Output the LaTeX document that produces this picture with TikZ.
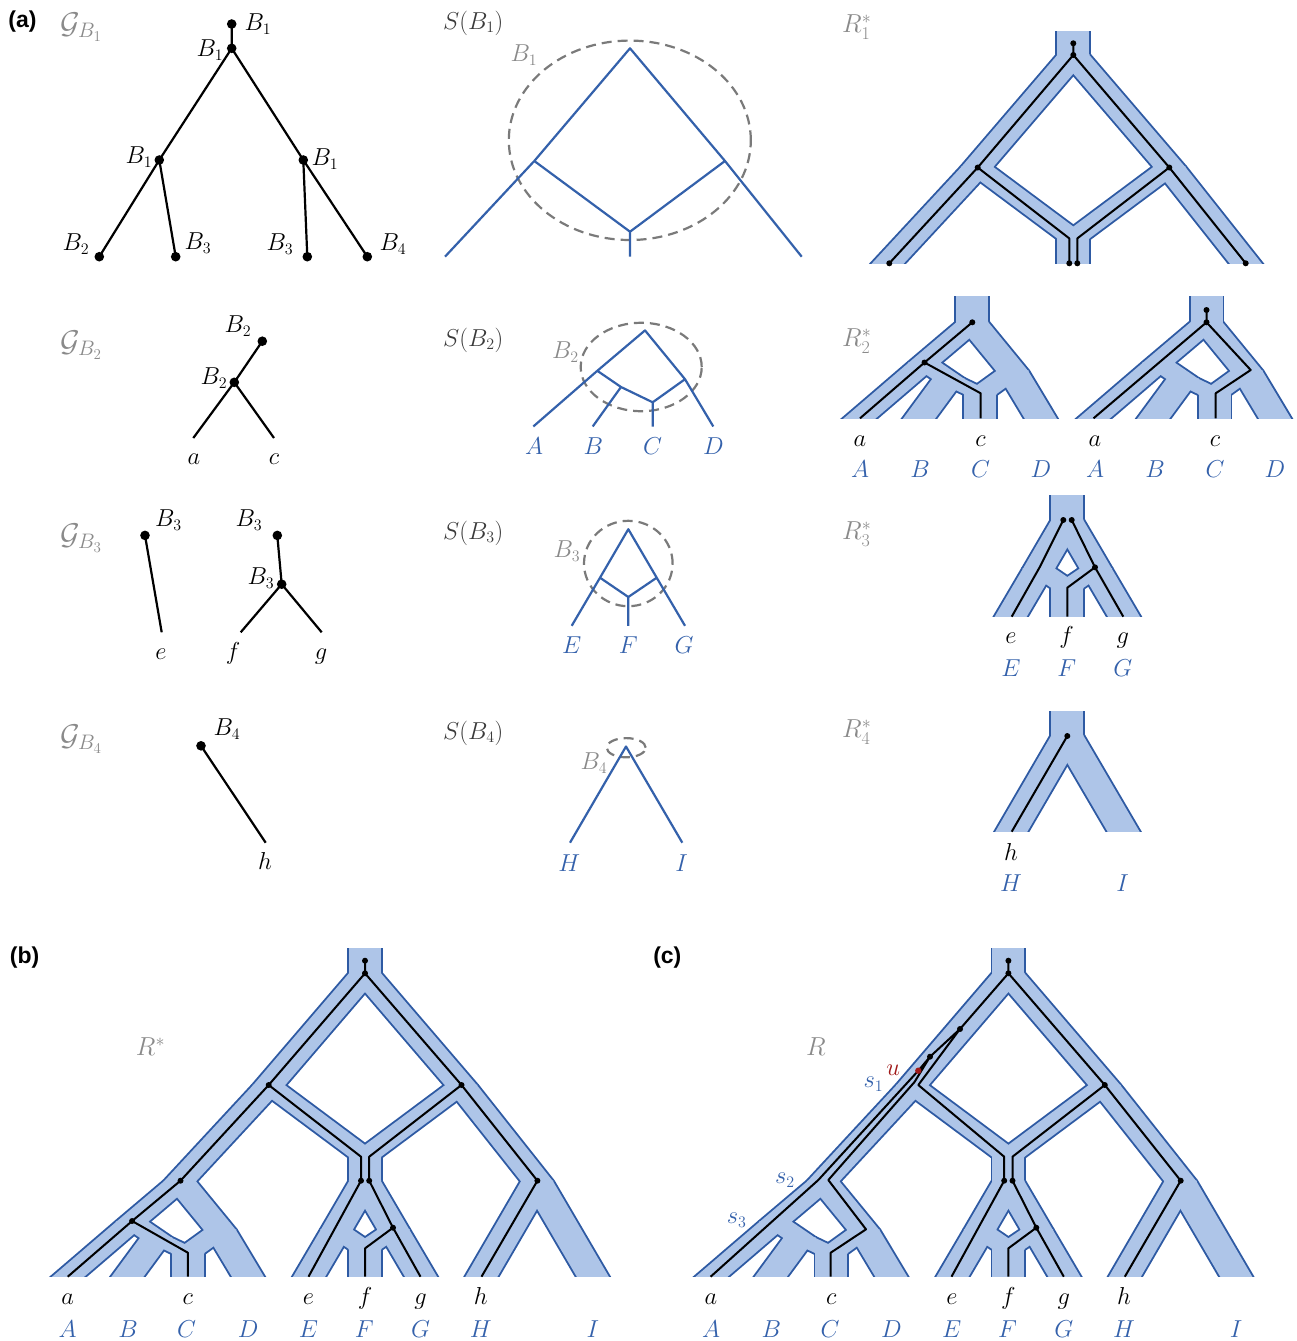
\RequirePackage{fix-cm}
\documentclass[tikz,border=0pt]{standalone}
\usepackage{fontspec}
\newfontfamily\panelfont{Liberation Sans}
\DeclareMathSizes{24.5}{24.5}{16}{12}
\DeclareMathSizes{30}{30}{21}{15}
\DeclareMathSizes{26}{26}{18}{13}
\usetikzlibrary{calc}
\definecolor{tubefillc}{HTML}{AEC5E8}
\definecolor{tubeedgec}{HTML}{2E5AA3}
\definecolor{sblue}{HTML}{3461AB}
\definecolor{lgray}{HTML}{8A8A8A}
\definecolor{dgray}{HTML}{3A3A3A}
\definecolor{egray}{HTML}{7A7A7A}
\definecolor{ured}{HTML}{A01818}
\newif\iffillpass
\newcommand\tubeseg[2]{%
  \iffillpass
    \fill[tubefillc] ($(#1)!-0.7pt!(#2)+(-16,0)$) -- ($(#1)!-0.7pt!(#2)+(16,0)$) -- ($(#2)!-0.7pt!(#1)+(16,0)$) -- ($(#2)!-0.7pt!(#1)+(-16,0)$) -- cycle;%
  \else
    \draw[tubeedgec,line width=3.8pt,line cap=round] ([xshift=-16pt]#1) -- ([xshift=-16pt]#2) ([xshift=16pt]#1) -- ([xshift=16pt]#2);%
  \fi}
\newcommand\tubeleaf[2]{\coordinate (tmpleaf) at ($(#1)!1.4!(#2)$);\tubeseg{#1}{tmpleaf}}
% species networks, coordinates relative to root
\newcommand\placeSone[3]{\begin{scope}[shift={(#2,#3)}]
  \coordinate (#1t) at (0,-40); \coordinate (#1r) at (0,0);
  \coordinate (#1L) at (-96,112); \coordinate (#1R) at (96,112);
  \coordinate (#1M) at (0,183.5);
  \coordinate (#1x) at (-185,208); \coordinate (#1y) at (0,208); \coordinate (#1z) at (172,208);
  \end{scope}}
\newcommand\placeStwo[3]{\begin{scope}[shift={(#2,#3)}]
  \coordinate (#1t) at (0,-40); \coordinate (#1r) at (0,0);
  \coordinate (#1L) at (-47.7,40.4); \coordinate (#1M) at (-24,56.6);
  \coordinate (#1C) at (8,71.9); \coordinate (#1R) at (40,48.8);
  \coordinate (#1a) at (-112.5,96); \coordinate (#1b) at (-53,96);
  \coordinate (#1c) at (8,96); \coordinate (#1d) at (68.3,96);
  \end{scope}}
\newcommand\placeSthree[3]{\begin{scope}[shift={(#2,#3)}]
  \coordinate (#1t) at (0,-40); \coordinate (#1r) at (0,0);
  \coordinate (#1L) at (-28.3,48.5); \coordinate (#1R) at (28.4,48.5);
  \coordinate (#1F) at (0,67.8);
  \coordinate (#1e) at (-56.6,96.6); \coordinate (#1f) at (0,96.6); \coordinate (#1g) at (56.7,96.6);
  \end{scope}}
\newcommand\placeSfour[3]{\begin{scope}[shift={(#2,#3)}]
  \coordinate (#1t) at (0,-40); \coordinate (#1r) at (0,0);
  \coordinate (#1h) at (-56,96.2); \coordinate (#1i) at (56.3,96.2);
  \end{scope}}
\newcommand\edgesSone[1]{\tubeseg{#1r}{#1L}\tubeseg{#1r}{#1R}\tubeseg{#1L}{#1M}\tubeseg{#1R}{#1M}}
\newcommand\edgesStwo[1]{\tubeseg{#1r}{#1L}\tubeseg{#1r}{#1R}\tubeleaf{#1L}{#1a}\tubeseg{#1L}{#1M}\tubeleaf{#1M}{#1b}\tubeseg{#1M}{#1C}\tubeseg{#1R}{#1C}\tubeleaf{#1C}{#1c}\tubeleaf{#1R}{#1d}}
\newcommand\edgesSthree[1]{\tubeseg{#1r}{#1L}\tubeseg{#1r}{#1R}\tubeleaf{#1L}{#1e}\tubeseg{#1L}{#1F}\tubeseg{#1R}{#1F}\tubeleaf{#1F}{#1f}\tubeleaf{#1R}{#1g}}
\newcommand\edgesSfour[1]{\tubeleaf{#1r}{#1h}\tubeleaf{#1r}{#1i}}
\newcommand\netOne[1]{\tubeseg{#1t}{#1r}\edgesSone{#1}\tubeleaf{#1L}{#1x}\tubeleaf{#1M}{#1y}\tubeleaf{#1R}{#1z}}
\newcommand\netTwo[1]{\tubeseg{#1t}{#1r}\edgesStwo{#1}}
\newcommand\netThree[1]{\tubeseg{#1t}{#1r}\edgesSthree{#1}}
\newcommand\netFour[1]{\tubeseg{#1t}{#1r}\edgesSfour{#1}}
\newcommand\netBig[1]{\tubeseg{#1t}{#1r}\edgesSone{#1}\tubeseg{#1L}{#1x}\tubeseg{#1M}{#1y}\tubeseg{#1R}{#1z}\edgesStwo{#1B}\edgesSthree{#1C}\edgesSfour{#1D}}
\newcommand\twopass[1]{\fillpassfalse #1\fillpasstrue #1}
\newcommand\gd[1]{\fill (#1) circle[radius=3pt];}
\newcommand\Gd[1]{\fill (#1) circle[radius=4.8pt];}
\begin{document}
\begin{tikzpicture}[x=1pt,y=-1pt,
  lbl/.style={inner sep=0pt,font=\fontsize{24.5}{28}\selectfont},
  ttl/.style={lbl,anchor=west,text=lgray},
  ttlG/.style={inner sep=0pt,anchor=west,text=lgray,font=\fontsize{30}{34}\selectfont},
  ttlR/.style={inner sep=0pt,anchor=west,text=lgray,font=\fontsize{26}{30}\selectfont},
  bl/.style={lbl,anchor=base,text=sblue},
  kl/.style={lbl,anchor=base},
  gtree/.style={line width=2.2pt,line join=round},
  gene/.style={line width=2pt,line join=round},
  sline/.style={line width=2.2pt,draw=sblue,line join=round},
  ell/.style={draw=egray,line width=2.2pt,dash pattern=on 10pt off 6pt},
  plbl/.style={inner sep=0pt,font=\panelfont\fontsize{23}{26}\selectfont\bfseries}]
\useasboundingbox (0,0) rectangle (1296,1341);
% ---------------- panel letters and titles
\node[plbl] (pa) at (22.5,22) {(a)};
\node[plbl] (pb) at (24.6,957.5) {(b)};
\node[plbl] (pc) at (667.3,957.5) {(c)};
\node[ttlG] (tG1) at (60,27) {$\mathcal{G}_{B_1}$};
\node[ttlG] (tG2) at (60,345) {$\mathcal{G}_{B_2}$};
\node[ttlG] (tG3) at (60,538) {$\mathcal{G}_{B_3}$};
\node[ttlG] (tG4) at (60,739) {$\mathcal{G}_{B_4}$};
\node[ttl,text=dgray] (tS1) at (443,23) {$S(B_1)$};
\node[ttl,text=dgray] (tS2) at (443,340) {$S(B_2)$};
\node[ttl,text=dgray] (tS3) at (443,533) {$S(B_3)$};
\node[ttl,text=dgray] (tS4) at (443,733) {$S(B_4)$};
\node[ttlR] (tR1) at (842,27) {$R^*_1$};
\node[ttlR] (tR2) at (842,341) {$R^*_2$};
\node[ttlR] (tR3) at (842,534) {$R^*_3$};
\node[ttlR] (tR4) at (842,732) {$R^*_4$};
\node[ttlR,anchor=center] (tRs) at (150.5,1046.7) {$R^*$};
\node[ttlR,anchor=center] (tR) at (815.8,1046.7) {$R$};
% ---------------- G_B1
\coordinate (ga1) at (231.7,24); \coordinate (ga2) at (231.7,48.3);
\coordinate (ga3) at (159.3,160); \coordinate (ga4) at (303.3,160);
\coordinate (ga5) at (99.3,256.7); \coordinate (ga6) at (175.7,256.7);
\coordinate (ga7) at (307.3,256.7); \coordinate (ga8) at (367.3,256.7);
\draw[gtree] (ga1)--(ga2) (ga2)--(ga3) (ga2)--(ga4) (ga3)--(ga5) (ga3)--(ga6) (ga4)--(ga7) (ga4)--(ga8);
\foreach \p in {ga1,ga2,ga3,ga4,ga5,ga6,ga7,ga8}{\Gd{\p}}
\node[lbl] (la1) at (258,24) {$B_1$};
\node[lbl] (la2) at (210,50) {$B_1$};
\node[lbl] (la3) at (139,157) {$B_1$};
\node[lbl] (la4) at (325,159) {$B_1$};
\node[lbl] (la5) at (76,244) {$B_2$};
\node[lbl] (la6) at (198,243) {$B_3$};
\node[lbl] (la7) at (280,244) {$B_3$};
\node[lbl] (la8) at (393,244) {$B_4$};
% ---------------- G_B2
\coordinate (gb21) at (262.3,341.2); \coordinate (gb22) at (234.3,382.3);
\coordinate (gb23) at (193.3,438); \coordinate (gb24) at (274,438);
\draw[gtree] (gb21)--(gb22)--(gb23) (gb22)--(gb24);
\Gd{gb21}\Gd{gb22}
\node[lbl] (lb1) at (238,326) {$B_2$};
\node[lbl] (lb2) at (214,378) {$B_2$};
\node[kl] (lb3) at (194,464.5) {$a$};
\node[kl] (lb4) at (274,464.5) {$c$};
% ---------------- G_B3
\coordinate (gc31) at (145,535.4); \coordinate (gc32) at (161.7,632.3);
\coordinate (gc33) at (277.3,535.4); \coordinate (gc34) at (281.7,584.2);
\coordinate (gc35) at (240.7,632.3); \coordinate (gc36) at (321.7,632.3);
\draw[gtree] (gc31)--(gc32) (gc33)--(gc34)--(gc35) (gc34)--(gc36);
\Gd{gc31}\Gd{gc33}\Gd{gc34}
\node[lbl] (lc1) at (168.5,520) {$B_3$};
\node[lbl] (lc2) at (249,520) {$B_3$};
\node[lbl] (lc3) at (261,578) {$B_3$};
\node[kl] (lc4) at (161,659) {$e$};
\node[kl] (lc5) at (233,659) {$f$};
\node[kl] (lc6) at (321,659) {$g$};
% ---------------- G_B4
\coordinate (gd41) at (201,745.8); \coordinate (gd42) at (265.7,842.7);
\draw[gtree] (gd41)--(gd42);
\Gd{gd41}
\node[lbl] (ld1) at (227,729) {$B_4$};
\node[kl] (ld2) at (265,869) {$h$};
% ---------------- S(B1)
\coordinate (s1r) at (630,48.3); \coordinate (s1L) at (534.3,161); \coordinate (s1R) at (725,161);
\coordinate (s1M) at (630,231.7); \coordinate (s1a) at (445,256.7); \coordinate (s1b) at (630,256.7); \coordinate (s1c) at (801.7,256.7);
\draw[ell] (629.8,140.3) ellipse[x radius=121pt,y radius=99.7pt];
\draw[sline] (s1a)--(s1L)--(s1r)--(s1R)--(s1c) (s1L)--(s1M)--(s1R) (s1M)--(s1b);
\node[lbl,text=lgray] (e1) at (524,55) {$B_1$};
% ---------------- S(B2)
\coordinate (s2r) at (645,330.4); \coordinate (s2L) at (597.3,370.8); \coordinate (s2M) at (621,387);
\coordinate (s2C) at (652.7,402.3); \coordinate (s2R) at (685,379.2);
\coordinate (s2a) at (533.3,426.5); \coordinate (s2b) at (592.7,426.5); \coordinate (s2c) at (652.7,426.5); \coordinate (s2d) at (713.3,426.5);
\draw[ell] (641.2,367) ellipse[x radius=60.5pt,y radius=44.2pt];
\draw[sline] (s2a)--(s2L)--(s2r)--(s2R)--(s2d) (s2L)--(s2M)--(s2C)--(s2R) (s2M)--(s2b) (s2C)--(s2c);
\node[lbl,text=lgray] (e2) at (565.5,352) {$B_2$};
\node[bl] (sA) at (534,454.6) {$A$};
\node[bl] (sB) at (593.3,454.6) {$B$};
\node[bl] (sC) at (652.7,454.6) {$C$};
\node[bl] (sD) at (713.3,454.6) {$D$};
% ---------------- S(B3)
\coordinate (s3r) at (628.3,529.2); \coordinate (s3L) at (600,577.7); \coordinate (s3R) at (656.7,577.7);
\coordinate (s3F) at (628.3,597); \coordinate (s3e) at (571.7,625.8); \coordinate (s3f) at (628.3,625.8); \coordinate (s3g) at (685,625.8);
\draw[ell] (628.3,563.5) ellipse[x radius=44.3pt,y radius=42.7pt];
\draw[sline] (s3e)--(s3L)--(s3r)--(s3R)--(s3g) (s3L)--(s3F)--(s3R) (s3F)--(s3f);
\node[lbl,text=lgray] (e3) at (567,551) {$B_3$};
\node[bl] (sE) at (571.7,653.5) {$E$};
\node[bl] (sF) at (628.3,653.5) {$F$};
\node[bl] (sG) at (684,653.5) {$G$};
% ---------------- S(B4)
\coordinate (s4r) at (626,746.5); \coordinate (s4h) at (570,842.7); \coordinate (s4i) at (682.3,842.7);
\draw[ell] (626.2,747.7) ellipse[x radius=19.5pt,y radius=9.6pt];
\draw[sline] (s4h)--(s4r)--(s4i);
\node[lbl,text=lgray] (e4) at (594,763) {$B_4$};
\node[bl] (sH) at (569.3,871) {$H$};
\node[bl] (sI) at (681.7,871) {$I$};
% ---------------- tube networks
\placeSone{o}{1073.3}{55}
\placeStwo{p}{972.3}{322.3}
\placeStwo{q}{1206.5}{322.3}
\placeSthree{m}{1067.3}{520.1}
\placeSfour{n}{1067.3}{735.5}
\placeSone{b}{365}{973.3}
\placeStwo{bB}{180}{1181.3}
\placeSthree{bC}{365}{1181.3}
\placeSfour{bD}{537}{1181.3}
\placeSone{c}{1008.4}{973.3}
\placeStwo{cB}{823.4}{1181.3}
\placeSthree{cC}{1008.4}{1181.3}
\placeSfour{cD}{1180.4}{1181.3}
\begin{scope}\clip (850,31) rectangle (1300,263.3); \twopass{\netOne{o}}\end{scope}
\begin{scope}\clip (830,296.7) rectangle (1066,418.3); \twopass{\netTwo{p}}\end{scope}
\begin{scope}\clip (1068,296.7) rectangle (1296,418.3); \twopass{\netTwo{q}}\end{scope}
\begin{scope}\clip (980,495) rectangle (1160,616.7); \twopass{\netThree{m}}\end{scope}
\begin{scope}\clip (980,711) rectangle (1160,831.7); \twopass{\netFour{n}}\end{scope}
\begin{scope}\clip (20,948.3) rectangle (640,1276.7); \twopass{\netBig{b}}\end{scope}
\begin{scope}\clip (660,948.3) rectangle (1290,1276.7); \twopass{\netBig{c}}\end{scope}
% ---------------- gene lineages in R1*
\coordinate (go1) at (1073.3,43.3); \coordinate (go2) at (1073.3,55); \coordinate (go3) at (977.7,167.5);
\coordinate (go4) at (889.3,263.3); \coordinate (go5) at (1069.3,238.4); \coordinate (go6) at (1069.3,263.3);
\coordinate (go7) at (1169.3,167.5); \coordinate (go8) at (1077.3,238.4); \coordinate (go9) at (1077.3,263.3);
\coordinate (go10) at (1245.7,263.3);
\draw[gene] (go1)--(go2)--(go3)--(go4) (go3)--(go5)--(go6) (go2)--(go7)--(go10) (go7)--(go8)--(go9);
\foreach \p in {go1,go2,go3,go4,go6,go7,go9,go10}{\gd{\p}}
% R2* left
\coordinate (gp1) at (972.3,322.3); \coordinate (gp2) at (924.5,362.5); \coordinate (gp3) at (860,418.3);
\coordinate (gp4) at (980.7,393.3); \coordinate (gp5) at (980.7,418.3);
\draw[gene] (gp1)--(gp2)--(gp3) (gp2)--(gp4)--(gp5);
\gd{gp1}\gd{gp2}
% R2* right
\coordinate (gq0) at (1206.5,310); \coordinate (gq1) at (1206.5,322.3); \coordinate (gq2) at (1093.5,418.3);
\coordinate (gq3) at (1250.7,370); \coordinate (gq4) at (1215.7,393.3); \coordinate (gq5) at (1215.7,418.3);
\draw[gene] (gq0)--(gq1)--(gq2) (gq1)--(gq3)--(gq4)--(gq5);
\gd{gq0}\gd{gq1}
\node[kl] (r2a) at (860,446.7) {$a$}; \node[kl] (r2c) at (980.5,446.7) {$c$};
\node[bl] (r2A) at (860,477.3) {$A$}; \node[bl] (r2B) at (920,477.3) {$B$};
\node[bl] (r2C) at (980.5,477.3) {$C$}; \node[bl] (r2D) at (1041,477.3) {$D$};
\node[kl] (r2a2) at (1095,446.7) {$a$}; \node[kl] (r2c2) at (1215,446.7) {$c$};
\node[bl] (r2A2) at (1095,477.3) {$A$}; \node[bl] (r2B2) at (1155,477.3) {$B$};
\node[bl] (r2C2) at (1215,477.3) {$C$}; \node[bl] (r2D2) at (1275,477.3) {$D$};
% R3*
\coordinate (gm1) at (1063.3,520); \coordinate (gm2) at (1071.7,520); \coordinate (gm3) at (1039.5,567.5);
\coordinate (gm4) at (1011.7,616.7); \coordinate (gm5) at (1095,567.3); \coordinate (gm6) at (1123.3,616.7);
\coordinate (gm7) at (1067.3,587.7); \coordinate (gm8) at (1067.3,616.7);
\draw[gene] (gm1)--(gm3)--(gm4) (gm2)--(gm5)--(gm6) (gm5)--(gm7)--(gm8);
\gd{gm1}\gd{gm2}\gd{gm5}
\node[kl] (r3e) at (1011,643.3) {$e$}; \node[kl] (r3f) at (1066.7,643.3) {$f$}; \node[kl] (r3g) at (1122.7,643.3) {$g$};
\node[bl] (r3E) at (1011,676.7) {$E$}; \node[bl] (r3F) at (1066.7,676.7) {$F$}; \node[bl] (r3G) at (1122.7,676.7) {$G$};
% R4*
\coordinate (gn1) at (1067.3,736); \coordinate (gn2) at (1011.7,831.7);
\draw[gene] (gn1)--(gn2);
\gd{gn1}
\node[kl] (r4h) at (1011,860) {$h$};
\node[bl] (r4H) at (1011,891) {$H$}; \node[bl] (r4I) at (1122.7,891) {$I$};
% ---------------- (b) gene tree
\coordinate (gb1) at (365,960.7); \coordinate (gb2) at (365,973.3); \coordinate (gb3) at (268.7,1085);
\coordinate (gb4) at (180.5,1180.7); \coordinate (gb5) at (132.1,1221); \coordinate (gb6) at (67.7,1276.7);
\coordinate (gb7) at (187.9,1252.7); \coordinate (gb8) at (187.9,1276.7); \coordinate (gb9) at (361,1156.7);
\coordinate (gb10) at (361,1180.7); \coordinate (gb11) at (308.5,1276.7); \coordinate (gb12) at (461.5,1085);
\coordinate (gb13) at (369.2,1156.7); \coordinate (gb14) at (369.2,1180.7); \coordinate (gb15) at (393,1227.7);
\coordinate (gb16) at (420.5,1276.7); \coordinate (gb17) at (365.1,1248.3); \coordinate (gb18) at (365.1,1276.7);
\coordinate (gb19) at (537.4,1180.7); \coordinate (gb20) at (481.5,1276.7);
\draw[gene] (gb1)--(gb2)--(gb3)--(gb4)--(gb5)--(gb6) (gb5)--(gb7)--(gb8) (gb3)--(gb9)--(gb10)--(gb11)
  (gb2)--(gb12)--(gb13)--(gb14)--(gb15)--(gb16) (gb15)--(gb17)--(gb18) (gb12)--(gb19)--(gb20);
\foreach \p in {gb1,gb2,gb3,gb4,gb5,gb10,gb12,gb14,gb15,gb19}{\gd{\p}}
% ---------------- (c) gene tree
\coordinate (gc1) at (1008.4,960.7); \coordinate (gc2) at (1008.4,973.3); \coordinate (gc3) at (960,1029);
\coordinate (gc4) at (930,1056.7); \coordinate (gu) at (918.3,1070.7); \coordinate (gc5) at (818.3,1180);
\coordinate (gc6) at (710.6,1276.7); \coordinate (gc7) at (914.5,1082); \coordinate (gc8) at (828.3,1180);
\coordinate (gc9) at (866,1229.3); \coordinate (gc10) at (830.7,1252.7); \coordinate (gc11) at (830.7,1276.7);
\coordinate (gc12) at (918.3,1085); \coordinate (gc13) at (1004.2,1156.7); \coordinate (gc14) at (1004.2,1180.7);
\coordinate (gc15) at (951.5,1276.7); \coordinate (gc16) at (1104.8,1085); \coordinate (gc17) at (1012.5,1156.7);
\coordinate (gc18) at (1012.5,1180.7); \coordinate (gc19) at (1036.3,1227.7); \coordinate (gc20) at (1063.8,1276.7);
\coordinate (gc21) at (1008.4,1248.3); \coordinate (gc22) at (1008.4,1276.7); \coordinate (gc23) at (1180.7,1180.7);
\coordinate (gc24) at (1124.8,1276.7);
\draw[gene] (gc1)--(gc2)--(gc3)--(gc4)--(gu)--(gc5)--(gc6) (gc4)--(gc7)--(gc8)--(gc9)--(gc10)--(gc11)
  (gc3)--(gc12)--(gc13)--(gc14)--(gc15) (gc2)--(gc16)--(gc17)--(gc18)--(gc19)--(gc20)
  (gc19)--(gc21)--(gc22) (gc16)--(gc23)--(gc24);
\foreach \p in {gc1,gc2,gc3,gc4,gc14,gc16,gc18,gc19,gc23}{\gd{\p}}
\fill[ured] (gu) circle[radius=3.2pt];
\node[lbl,text=ured] (lu) at (893.3,1070) {$u$};
\node[lbl,text=sblue] (ls1) at (873.4,1084) {$s_1$};
\node[lbl,text=sblue] (ls2) at (785,1180) {$s_2$};
\node[lbl,text=sblue] (ls3) at (736.7,1220) {$s_3$};
% ---------------- leaf labels (b) and (c)
\foreach \dx/\nm in {0/b,643.3/c}{
  \node[kl] (\nm ka) at (67.7+\dx,1304) {$a$};
  \node[kl] (\nm kc) at (187.9+\dx,1304) {$c$};
  \node[kl] (\nm ke) at (308.5+\dx,1304) {$e$};
  \node[kl] (\nm kf) at (365.1+\dx,1304) {$f$};
  \node[kl] (\nm kg) at (420.5+\dx,1304) {$g$};
  \node[kl] (\nm kh) at (480.8+\dx,1304) {$h$};
  \node[bl] (\nm kA) at (67.7+\dx,1337.3) {$A$};
  \node[bl] (\nm kB) at (128+\dx,1337.3) {$B$};
  \node[bl] (\nm kC) at (186.7+\dx,1337.3) {$C$};
  \node[bl] (\nm kD) at (248.2+\dx,1337.3) {$D$};
  \node[bl] (\nm kE) at (308.5+\dx,1337.3) {$E$};
  \node[bl] (\nm kF) at (364.3+\dx,1337.3) {$F$};
  \node[bl] (\nm kG) at (420.5+\dx,1337.3) {$G$};
  \node[bl] (\nm kH) at (480.8+\dx,1337.3) {$H$};
  \node[bl] (\nm kI) at (592.8+\dx,1337.3) {$I$};
}
\end{tikzpicture}
\end{document}
